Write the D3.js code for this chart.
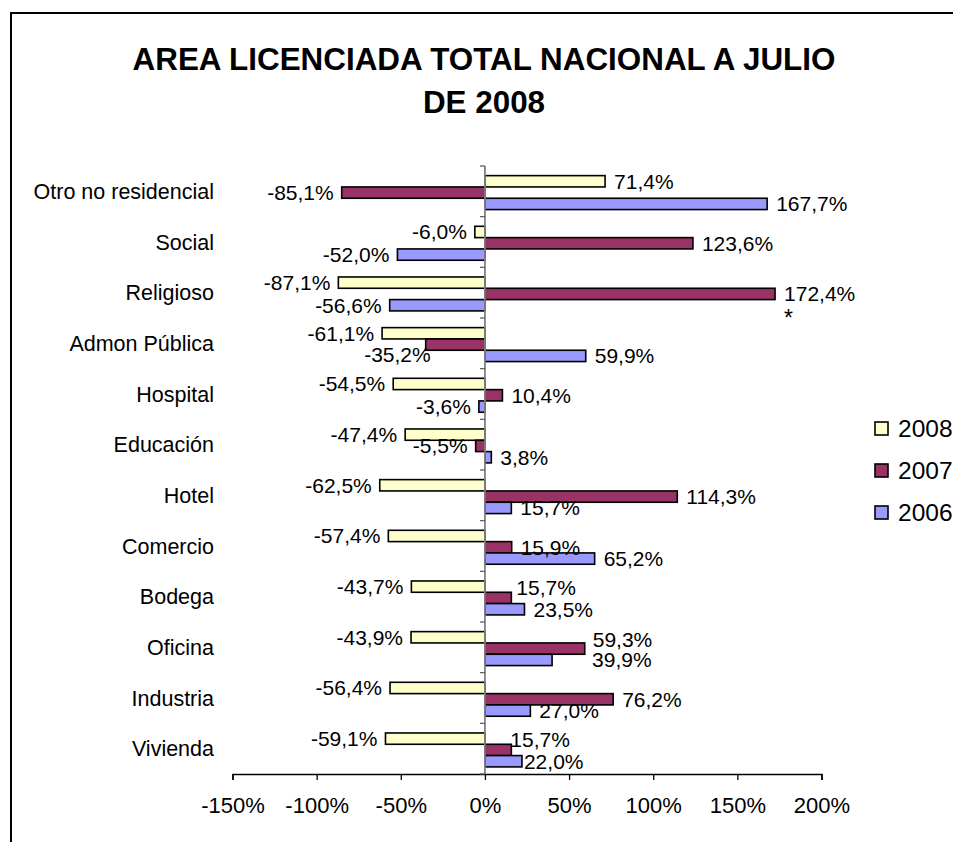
<!DOCTYPE html>
<meta charset="utf-8">
<style>
html,body{ margin:0; background:#fff; }
text{ font-family: "Liberation Sans", Arial, sans-serif; fill:#000; }
.bar{ stroke:#000; stroke-width:1.6px; }
</style>
<script src="https://cdn.jsdelivr.net/npm/d3@7"></script>
<body>
<script>

// chart values
var categories = ["Otro no residencial","Social","Religioso","Admon Pública","Hospital","Educación","Hotel","Comercio","Bodega","Oficina","Industria","Vivienda"];
var series = ["2008","2007","2006"];
var v2008 = [71.4,-6.0,-87.1,-61.1,-54.5,-47.4,-62.5,-57.4,-43.7,-43.9,-56.4,-59.1];
var v2007 = [-85.1,123.6,172.4,-35.2,10.4,-5.5,114.3,15.9,15.7,59.3,76.2,15.7];
var v2006 = [167.7,-52.0,-56.6,59.9,-3.6,3.8,15.7,65.2,23.5,39.9,27.0,22.0];
var tickValues = [-150,-100,-50,0,50,100,150,200];
var titleLines = ["AREA LICENCIADA TOTAL NACIONAL A JULIO","DE 2008"];

var colors = {"2008":"#ffffcc","2007":"#993366","2006":"#9999ff"};
var values = {"2008":v2008,"2007":v2007,"2006":v2006};

// labels Excel had dragged by hand
var nudge = {
  "Admon Pública|2007":[13,10],
  "Bodega|2007":[-4,-10],
  "Oficina|2007":[-1,-9],
  "Oficina|2006":[31,0],
  "Vivienda|2007":[-10,-10],
  "Vivienda|2006":[-7,0]
};

var width = 953, height = 842;

var loc = d3.formatLocale({decimal:",", thousands:".", grouping:[3], currency:["",""], minus:"-"});
var fmtVal = function(d){ return loc.format(".1f")(d) + "%"; };
var fmtTick = function(d){ return loc.format("d")(d) + "%"; };

var svg = d3.select("body").append("svg")
  .attr("width", width)
  .attr("height", height);

svg.append("rect")
  .attr("x", 11).attr("y", 13)
  .attr("width", 960).attr("height", 850)
  .attr("fill", "#fff")
  .attr("stroke", "#000")
  .attr("stroke-width", 2);

svg.append("text")
  .attr("text-anchor", "middle")
  .style("font-weight", "bold")
  .style("font-size", "31.4px")
  .selectAll("tspan")
  .data(titleLines)
  .enter().append("tspan")
  .attr("x", 484)
  .attr("y", function(d,i){ return 70 + i*43; })
  .text(function(d){ return d; });

var x = d3.scaleLinear().domain([-150,200]).range([232.5,821.5]);
var y = d3.scaleBand().domain(categories).range([166,774]);
var y1 = d3.scaleBand().domain(series).range([y.bandwidth()*0.19, y.bandwidth()*0.86]);

// bottom axis
var xAxis = svg.append("g")
  .attr("transform", "translate(0,774)")
  .call(d3.axisBottom(x).tickValues(tickValues).tickFormat(fmtTick).tickSizeInner(6).tickSizeOuter(6).tickPadding(12));
xAxis.select(".domain").attr("stroke", "#000").attr("stroke-width", 1.5);
xAxis.selectAll(".tick line").attr("stroke", "#000").attr("stroke-width", 1.3);
xAxis.selectAll(".tick text")
  .attr("font-family", null)
  .style("font-size", "22px")
  .attr("dy", "0.95em");

// category labels
svg.append("g").selectAll("text")
  .data(categories)
  .enter().append("text")
  .attr("x", 214)
  .attr("y", function(d){ return y(d) + y.bandwidth()/2 + 7.5; })
  .attr("text-anchor", "end")
  .style("font-size", "21.5px")
  .text(function(d){ return d; });

// bars
var rows = [];
categories.forEach(function(c,i){
  series.forEach(function(s){
    rows.push({cat:c, ser:s, val:values[s][i]});
  });
});

var bars = svg.append("g");
bars.selectAll("rect")
  .data(rows)
  .enter().append("rect")
  .attr("class", "bar")
  .attr("x", function(d){ return x(Math.min(0,d.val)); })
  .attr("y", function(d){ return y(d.cat) + y1(d.ser); })
  .attr("width", function(d){ return Math.abs(x(d.val) - x(0)); })
  .attr("height", y1.bandwidth())
  .attr("fill", function(d){ return colors[d.ser]; });

// zero line with category ticks
var yAxis = svg.append("g")
  .attr("transform", "translate(" + x(0) + ",0)");
yAxis.append("line")
  .attr("y1", 166).attr("y2", 774)
  .attr("stroke", "#808080").attr("stroke-width", 1.8);
yAxis.selectAll(".ytick")
  .data(d3.range(categories.length + 1))
  .enter().append("line")
  .attr("class", "ytick")
  .attr("x1", -5).attr("x2", 0)
  .attr("y1", function(i){ return 166 + i*y.bandwidth(); })
  .attr("y2", function(i){ return 166 + i*y.bandwidth(); })
  .attr("stroke", "#555").attr("stroke-width", 1.2);

// value labels
svg.append("g").selectAll("text")
  .data(rows)
  .enter().append("text")
  .attr("x", function(d){
    var n = nudge[d.cat + "|" + d.ser] || [0,0];
    return (d.val >= 0 ? x(d.val) + 9 : x(d.val) - 8) + n[0];
  })
  .attr("y", function(d){
    var n = nudge[d.cat + "|" + d.ser] || [0,0];
    return y(d.cat) + y1(d.ser) + y1.bandwidth()/2 + 7.3 + n[1];
  })
  .attr("text-anchor", function(d){ return d.val >= 0 ? "start" : "end"; })
  .style("font-size", "21px")
  .text(function(d){ return fmtVal(d.val); });

// asterisk note under Religioso 2007
svg.append("text")
  .attr("x", x(v2007[2]) + 9)
  .attr("y", y("Religioso") + y1("2007") + y1.bandwidth()/2 + 32)
  .style("font-size", "23px")
  .text("*");

// legend
var legend = svg.append("g").selectAll("g")
  .data(series)
  .enter().append("g")
  .attr("transform", function(d,i){ return "translate(875," + (422 + i*42) + ")"; });
legend.append("rect")
  .attr("width", 13).attr("height", 13)
  .attr("fill", function(d){ return colors[d]; })
  .attr("stroke", "#000").attr("stroke-width", 1.6);
legend.append("text")
  .attr("x", 23)
  .attr("y", 15)
  .style("font-size", "24.5px")
  .text(function(d){ return d; });

</script>
</body>
